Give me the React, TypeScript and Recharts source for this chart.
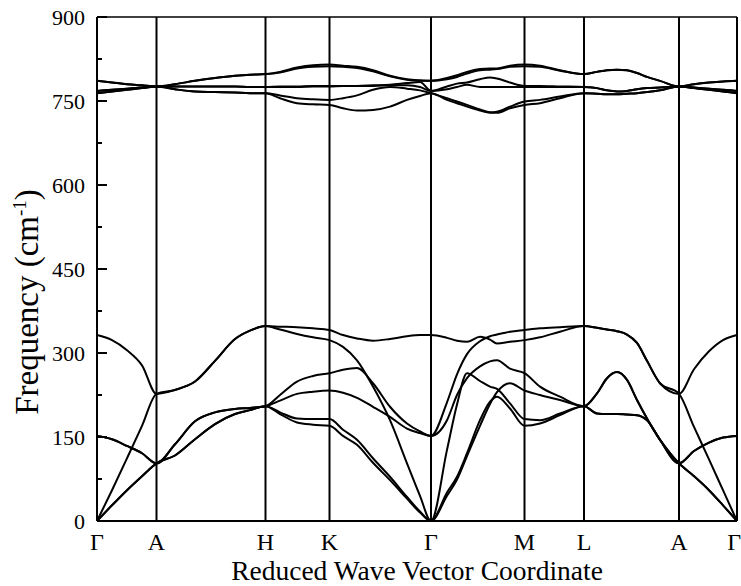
import React from 'react';
import { LineChart, Line, XAxis, YAxis, ReferenceLine } from 'recharts';

const symPos = [0, 59.5, 168.5, 232.5, 334, 427.5, 487, 582, 640];
const symLabels = ['Γ', 'A', 'H', 'K', 'Γ', 'M', 'L', 'A', 'Γ'];
const yTicks = [0, 75, 150, 225, 300, 375, 450, 525, 600, 675, 750, 825, 900];

const kPath = [0, 15, 30, 45, 59.5, 78, 98, 118, 138, 153, 168.5, 183, 200, 216, 232.5, 246, 260, 276, 293, 310, 323, 334, 350, 360, 370, 383, 393, 400, 413, 427.5, 443, 463, 487, 500, 510, 520, 530, 540, 550, 563, 582, 597, 612, 626, 640];

// acoustic / low optical branches
const low1 = [0, 28, 55, 80, 103, 117, 146, 173, 191, 198, 205, 194, 183, 182, 182, 163, 145, 112, 79, 43, 17, 0, 45, 74, 116, 170, 209, 230, 246, 233, 225, 216, 205, 228, 255, 266, 252, 216, 183, 145, 103, 125, 140, 149, 152];
const low2 = [0, 28, 55, 80, 103, 117, 146, 173, 191, 198, 205, 191, 176, 172, 170, 152, 136, 104, 73, 40, 15, 0, 51, 79, 121, 180, 213, 222, 201, 170, 174, 189, 205, 192, 191, 191, 190, 189, 180, 145, 103, 80, 55, 28, 0];
const low3 = [0, 55, 112, 170, 227, 234, 249, 286, 325, 340, 348, 342, 334, 328, 323, 311, 287, 240, 180, 103, 45, 0, 127, 208, 264, 250, 240, 236, 210, 182, 180, 192, 205, 192, 191, 191, 190, 189, 180, 145, 103, 80, 55, 28, 0];
const low4 = [152, 146, 134, 121, 103, 137, 178, 194, 200, 202, 205, 225, 249, 259, 264, 270, 273, 246, 204, 174, 160, 152, 212, 262, 298, 321, 330, 333, 338, 341, 344, 346, 348, 345, 342, 339, 333, 318, 286, 246, 227, 168, 110, 55, 0];
const low5 = [152, 146, 134, 121, 103, 137, 178, 194, 200, 202, 205, 215, 227, 231, 233, 229, 220, 204, 186, 165, 157, 152, 180, 225, 255, 276, 285, 287, 272, 264, 240, 222, 205, 228, 255, 266, 252, 216, 183, 145, 103, 125, 140, 149, 152];
const low6 = [332, 323, 305, 278, 227, 234, 249, 286, 325, 340, 348, 347, 346, 344, 341, 332, 326, 322, 325, 330, 332, 332, 327, 322, 320, 329, 324, 317, 320, 323, 328, 338, 348, 345, 342, 339, 333, 318, 286, 246, 227, 271, 303, 323, 332];

// high optical bands
const high1 = [764, 767, 770, 773, 776, 771, 767, 766, 765, 764, 764, 755, 746, 744, 743, 737, 733, 734, 740, 752, 759, 764, 752, 746, 740, 733, 729, 729, 737, 743, 746, 755, 764, 763, 762, 762, 763, 764, 766, 769, 776, 773, 770, 767, 764];
const high2 = [764, 767, 770, 773, 776, 771, 767, 766, 765, 764, 764, 760, 755, 753, 752, 755, 760, 770, 775, 772, 769, 764, 755, 749, 743, 735, 730, 731, 740, 749, 752, 758, 764, 763, 762, 762, 763, 764, 766, 769, 776, 773, 770, 767, 764];
const high3 = [768, 770, 772, 774, 776, 776, 776, 776, 776, 775, 775, 775, 775, 776, 776, 777, 777, 777, 778, 778, 775, 768, 771, 775, 779, 775, 775, 775, 775, 775, 775, 775, 775, 773, 769, 767, 768, 771, 773, 774, 776, 774, 772, 770, 768];
const high4 = [768, 770, 772, 774, 776, 776, 776, 776, 776, 775, 775, 776, 776, 777, 777, 777, 777, 778, 779, 782, 784, 768, 776, 781, 783, 789, 792, 790, 783, 777, 777, 776, 775, 773, 769, 767, 768, 771, 773, 774, 776, 774, 772, 770, 768];
const high5 = [786, 783, 780, 778, 776, 780, 786, 791, 795, 797, 798, 801, 808, 811, 812, 811, 809, 803, 794, 788, 786, 786, 789, 793, 799, 805, 806, 807, 811, 812, 811, 804, 798, 802, 805, 806, 805, 800, 793, 786, 776, 780, 783, 785, 786];
const high6 = [786, 783, 780, 778, 776, 780, 786, 791, 795, 797, 798, 802, 810, 814, 815, 813, 811, 805, 795, 789, 787, 786, 791, 796, 802, 807, 808, 808, 813, 815, 813, 805, 798, 802, 805, 806, 805, 800, 793, 786, 776, 780, 783, 785, 786];

const bands = [low1, low2, low3, low4, low5, low6, high1, high2, high3, high4, high5, high6];

const data = kPath.map((x, i) => {
  const row: any = { x };
  bands.forEach((b, j) => {
    row['b' + j] = b[i];
  });
  return row;
});

const FONT = '"Liberation Serif", "Times New Roman", Times, serif';

function YTick(props: any) {
  const { x, y, payload } = props;
  const v = payload.value;
  const major = v % 150 === 0;
  const ax = x + 12;
  return (
    <g>
      <line x1={ax} x2={ax + (major ? 10 : 5)} y1={y} y2={y} stroke="#000" strokeWidth={2} />
      {major ? (
        <text x={x} y={y} dy="0.35em" textAnchor="end" fontSize={22} fontFamily={FONT} fill="#000">
          {v}
        </text>
      ) : null}
    </g>
  );
}

function XTick(props: any) {
  const { x, y, index } = props;
  const last = index === symLabels.length - 1;
  return (
    <text x={last ? 741 : x} y={y + 29} textAnchor={last ? 'end' : 'middle'} fontSize={24} fontFamily={FONT} fill="#000">
      {symLabels[index]}
    </text>
  );
}

function XTitle() {
  return (
    <text x={417} y={580} textAnchor="middle" fontSize={27.5} fontFamily={FONT} fill="#000">
      Reduced Wave Vector Coordinate
    </text>
  );
}

function YTitle() {
  const cx = 38;
  const cy = 302;
  return (
    <text x={cx} y={cy} transform={`rotate(-90, ${cx}, ${cy})`} textAnchor="middle" fontSize={33} fontFamily={FONT} fill="#000">
      Frequency (cm
      <tspan dy={-12} fontSize={19}>-1</tspan>
      <tspan dy={12}>)</tspan>
    </text>
  );
}

export default function App() {
  return (
    <div style={{ position: 'fixed', left: 0, top: 0, width: 741, height: 586, background: '#fff' }}>
      <LineChart width={741} height={586} data={data} margin={{ top: 17, right: 4, bottom: 0, left: 0 }}>
        <XAxis
          dataKey="x"
          type="number"
          domain={[0, 640]}
          ticks={symPos}
          interval={0}
          tickLine={false}
          tickSize={0}
          tickMargin={0}
          height={65}
          axisLine={{ stroke: '#000', strokeWidth: 2 }}
          tick={<XTick />}
          label={<XTitle />}
        />
        <YAxis
          type="number"
          domain={[0, 900]}
          ticks={yTicks}
          interval={0}
          tickLine={false}
          tickSize={0}
          tickMargin={12}
          width={97}
          axisLine={{ stroke: '#000', strokeWidth: 2 }}
          tick={<YTick />}
          label={<YTitle />}
        />
        <ReferenceLine y={900} stroke="#000" strokeWidth={1.5} />
        {symPos.slice(1).map((p, i) => (
          <ReferenceLine key={'v' + i} x={p} stroke="#000" strokeWidth={2} />
        ))}
        {bands.map((_, j) => (
          <Line
            key={'b' + j}
            dataKey={'b' + j}
            type="monotone"
            stroke="#000"
            strokeWidth={2}
            dot={false}
            activeDot={false}
            isAnimationActive={false}
          />
        ))}
      </LineChart>
    </div>
  );
}
